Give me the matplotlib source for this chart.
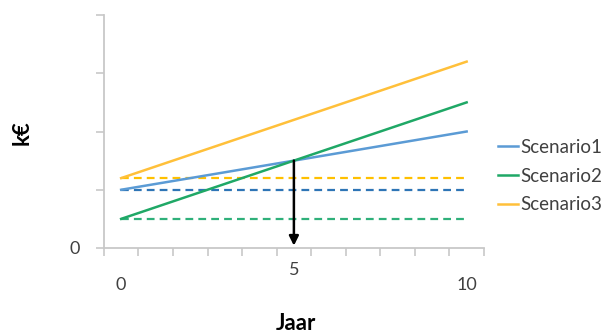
import matplotlib
matplotlib.use("Agg")
import matplotlib.pyplot as plt

# years at start and end of each line, values in k€
years = [0, 10]
scenarios = ["Scenario1", "Scenario2", "Scenario3"]
solid_vals = {"Scenario1": [1.0, 2.0], "Scenario2": [0.5, 2.5], "Scenario3": [1.2, 3.2]}
flat_vals = {"Scenario1": 1.0, "Scenario2": 0.5, "Scenario3": 1.2}
colors = {"Scenario1": "#5b9bd5", "Scenario2": "#1fa866", "Scenario3": "#ffc03a"}
dash_colors = {"Scenario1": "#2e75b6", "Scenario2": "#2fb07a", "Scenario3": "#ffc000"}
cross_year = 5
cross_val = 1.5

plt.rcParams['font.family'] = ['Lato', 'DejaVu Sans']

fig = plt.figure(figsize=(6.11, 3.34), dpi=100)
ax = fig.add_axes([0.170, 0.2575, 0.622, 0.6975])

for s in scenarios:
    ax.plot(years, [flat_vals[s]] * 2, color=dash_colors[s], lw=1.6,
            dashes=(3.5, 2.3), zorder=2)
for s in scenarios:
    ax.plot(years, solid_vals[s], color=colors[s], lw=1.8, label=s, zorder=3)

ax.annotate("", xy=(cross_year, 0.04), xytext=(cross_year, cross_val),
            arrowprops=dict(arrowstyle="-|>", color="black", lw=1.8,
                            mutation_scale=14, shrinkA=0, shrinkB=0), zorder=4)

ax.set_xlim(-0.5, 10.5)
ax.set_ylim(0, 4)
ax.set_xticks([i - 0.5 for i in range(12)])
ax.set_xticklabels([])
ax.set_yticks([0, 1, 2, 3, 4])
ax.set_yticklabels(["0", "", "", "", ""], fontsize=13, color="#404040")
ax.tick_params(axis='both', color="#c8c8c8", length=6, width=1.2)
ax.tick_params(axis='y', pad=11)
for side in ["top", "right"]:
    ax.spines[side].set_visible(False)
for side in ["left", "bottom"]:
    ax.spines[side].set_color("#c8c8c8")
    ax.spines[side].set_linewidth(1.3)

# staggered year labels, as in the original
ax.text(0, -0.63, "0", ha="center", va="center", fontsize=13, color="#404040")
ax.text(5, -0.38, "5", ha="center", va="center", fontsize=13, color="#404040")
ax.text(10, -0.63, "10", ha="center", va="center", fontsize=13, color="#404040")

fig.text(296 / 611, 1 - 324 / 334, "Jaar", ha="center", va="center",
         fontsize=16, fontweight="bold")
fig.text(22 / 611, 1 - 133 / 334, "k€", ha="center", va="center",
         fontsize=16, fontweight="bold", rotation=90)

ax.legend(loc="center left", bbox_to_anchor=(1.037, 0.309), frameon=False,
          fontsize=13.5, handlelength=1.07, handletextpad=0.1,
          labelspacing=0.62, borderpad=0, borderaxespad=0,
          labelcolor="#404040")

fig.savefig("out.png", dpi=100)
